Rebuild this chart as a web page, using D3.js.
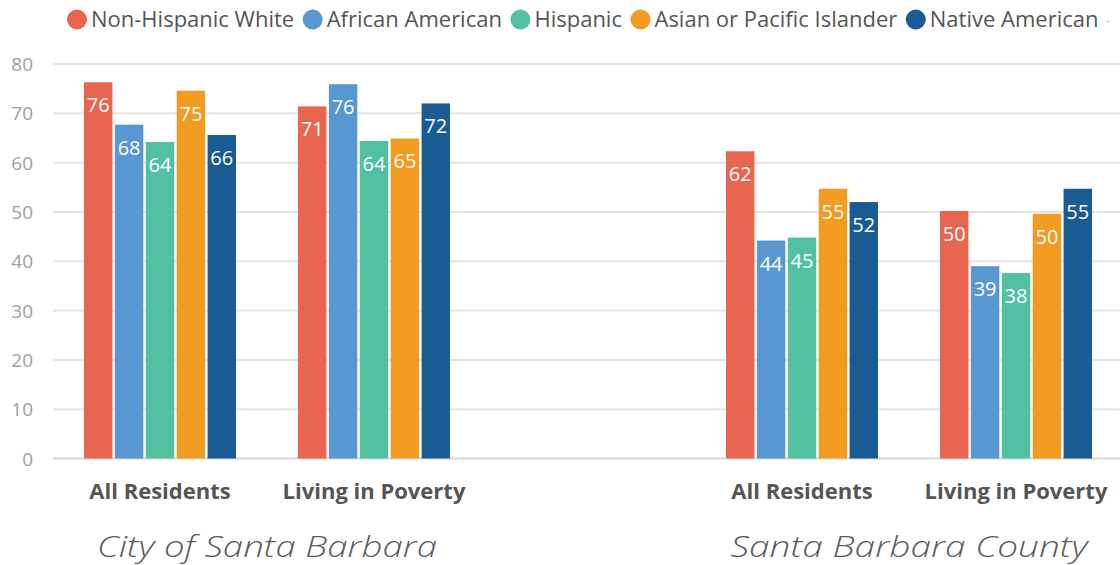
<!DOCTYPE html>
<html>
<head>
<meta charset="utf-8">
<script src="https://cdn.jsdelivr.net/npm/d3@7"></script>
<style>
  html, body { margin: 0; padding: 0; background: #fff; }
  svg { display: block; }
</style>
</head>
<body>
<svg id="chart" width="1120" height="565"></svg>
<script>
// Grouped bars by race/ethnicity, city vs county, all residents vs living in poverty
const seriesNames = ["Non-Hispanic White", "African American", "Hispanic", "Asian or Pacific Islander", "Native American"];
const seriesColors = ["#E9654F", "#5798D2", "#52C1A0", "#F29B21", "#1B5B94"];

// slot keys along the x axis; "gap" is an empty spacer between regions
const slots = ["cityAll", "cityPoverty", "gap", "countyAll", "countyPoverty"];
const slotLabels = ["All Residents", "Living in Poverty", "", "All Residents", "Living in Poverty"];

const cityAllValues      = [76.3, 67.7, 64.2, 74.6, 65.6];
const cityPovertyValues  = [71.4, 75.9, 64.4, 64.9, 72.0];
const countyAllValues    = [62.3, 44.2, 44.8, 54.7, 52.0];
const countyPovValues    = [50.2, 39.0, 37.6, 49.6, 54.7];

const regionNames = ["City of Santa Barbara", "Santa Barbara County"];
const yTicks = [0, 10, 20, 30, 40, 50, 60, 70, 80];

const groups = [
  { slot: "cityAll", values: cityAllValues },
  { slot: "cityPoverty", values: cityPovertyValues },
  { slot: "countyAll", values: countyAllValues },
  { slot: "countyPoverty", values: countyPovValues }
];

const svg = d3.select("#chart");
const W = 1120;

const x0 = d3.scaleBand().domain(slots).range([53, 1123]).padding(0);
const x1 = d3.scaleBand().domain(seriesNames)
  .range([31, x0.bandwidth() - 31]).paddingInner(0.08).paddingOuter(0);
const y = d3.scaleLinear().domain([0, 80]).range([458.5, 64]);

// gridlines
const grid = svg.append("g");
grid.selectAll("line").data(yTicks).join("line")
  .attr("x1", 53).attr("x2", W)
  .attr("y1", d => y(d)).attr("y2", d => y(d))
  .attr("stroke", d => d === 0 ? "#d8d8d8" : "#e4e4e4")
  .attr("stroke-width", 2);

// y axis labels
const yAxis = svg.append("g").attr("transform", "translate(33,0)")
  .call(d3.axisLeft(y).tickValues(yTicks).tickSize(0).tickPadding(0));
yAxis.select(".domain").remove();
yAxis.selectAll("text")
  .attr("fill", "#a0a0a0")
  .style("font-family", "'Open Sans', sans-serif")
  .style("font-size", "19px")
  .attr("dy", "0.35em");

// bars
const gGroups = svg.append("g").selectAll("g").data(groups).join("g")
  .attr("transform", d => `translate(${x0(d.slot)},0)`);

gGroups.selectAll("rect")
  .data(d => d.values.map((v, i) => ({ v, name: seriesNames[i], color: seriesColors[i] })))
  .join("rect")
  .attr("x", d => x1(d.name))
  .attr("width", x1.bandwidth())
  .attr("y", d => y(d.v))
  .attr("height", d => y(0) - y(d.v))
  .attr("fill", d => d.color);

gGroups.selectAll("text")
  .data(d => d.values.map((v, i) => ({ v, name: seriesNames[i] })))
  .join("text")
  .attr("x", d => x1(d.name) + x1.bandwidth() / 2)
  .attr("y", d => y(d.v) + 30)
  .attr("text-anchor", "middle")
  .attr("fill", "#ffffff")
  .style("font-family", "'Open Sans', sans-serif")
  .style("font-size", "20px")
  .text(d => d3.format(".0f")(d.v));

// category labels
const xAxis = svg.append("g").attr("transform", `translate(0,${y(0)})`)
  .call(d3.axisBottom(x0).tickSize(0).tickPadding(0).tickFormat((d, i) => slotLabels[i]));
xAxis.select(".domain").remove();
xAxis.selectAll("text")
  .attr("y", 40)
  .attr("dy", 0)
  .attr("fill", "#555555")
  .style("font-family", "'Open Sans', sans-serif")
  .style("font-weight", "700")
  .style("font-size", "22px");

// region titles, set in a wide light italic
const regionCenters = [
  (x0("cityAll") + x0("cityPoverty") + x0.bandwidth()) / 2,
  (x0("countyAll") + x0("countyPoverty") + x0.bandwidth()) / 2
];
const regionWidths = [340, 357];
svg.append("g").selectAll("text").data(regionNames).join("text")
  .attr("x", (d, i) => regionCenters[i])
  .attr("y", 557)
  .attr("text-anchor", "middle")
  .attr("textLength", (d, i) => regionWidths[i])
  .attr("lengthAdjust", "spacingAndGlyphs")
  .attr("fill", "#5c5c5c")
  .style("font-family", "'Open Sans', sans-serif")
  .style("font-style", "italic")
  .style("font-weight", "300")
  .style("font-size", "30px")
  .text(d => d);

// legend
const legend = svg.append("g");
let cursor = 67;
seriesNames.forEach((name, i) => {
  const item = legend.append("g");
  item.append("circle")
    .attr("cx", cursor + 10).attr("cy", 19.5).attr("r", 10)
    .attr("fill", seriesColors[i]);
  const t = item.append("text")
    .attr("x", cursor + 24).attr("y", 27)
    .attr("fill", "#555555")
    .style("font-family", "'Open Sans', sans-serif")
    .style("font-size", "22px")
    .text(name);
  cursor += 24 + t.node().getComputedTextLength() + 8.5;
});
legend.append("text")
  .attr("x", cursor - 1).attr("y", 26)
  .attr("fill", "#c8c8c8")
  .style("font-family", "'Open Sans', sans-serif")
  .style("font-size", "14px")
  .text("-");
</script>
</body>
</html>
